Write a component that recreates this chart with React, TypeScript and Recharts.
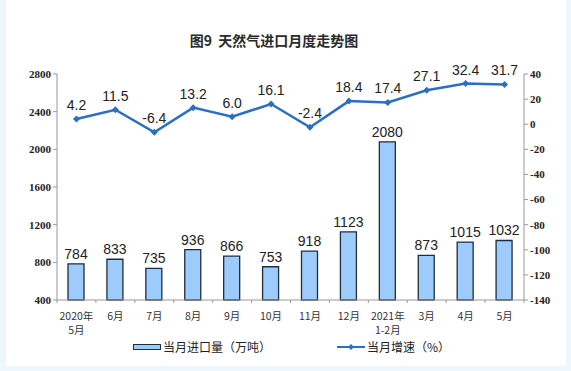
import React from 'react';
import {
  ComposedChart,
  Bar,
  Line,
  XAxis,
  YAxis,
  LabelList,
} from 'recharts';

// 月份标签（两行的用 \n 分隔）
const months = [
  '2020年\n5月', '6月', '7月', '8月', '9月', '10月',
  '11月', '12月', '2021年\n1-2月', '3月', '4月', '5月',
];
// 当月进口量（万吨）
const volume = [784, 833, 735, 936, 866, 753, 918, 1123, 2080, 873, 1015, 1032];
// 当月增速（%）
const growth = [4.2, 11.5, -6.4, 13.2, 6.0, 16.1, -2.4, 18.4, 17.4, 27.1, 32.4, 31.7];

const leftTicks = [400, 800, 1200, 1600, 2000, 2400, 2800];
const rightTicks = [-140, -120, -100, -80, -60, -40, -20, 0, 20, 40];

const data = months.map((m, i) => ({ month: m, volume: volume[i], growth: growth[i] }));

const LINE_COLOR = '#2b6fc0';
const BAR_FILL = '#9dcbfb';
const BAR_STROKE = '#1f2d3d';
const CJK = '"Noto Sans CJK SC", "Noto Sans", sans-serif';
const SERIF = '"Liberation Serif", "DejaVu Serif", serif';

const W = 571;
const H = 371;
const LEFT = 57;
const RIGHT = 47;
const BAND = (W - LEFT - RIGHT) / months.length;

const MonthTick = (props: any) => {
  const { x, y, payload } = props;
  const lines = String(payload.value).split('\n');
  return (
    <g>
      <line x1={x - BAND / 2} x2={x - BAND / 2} y1={y - 8} y2={y - 5} stroke="#999" />
      {payload.index === months.length - 1 && (
        <line x1={x + BAND / 2} x2={x + BAND / 2} y1={y - 8} y2={y - 5} stroke="#999" />
      )}
      <text x={x} y={y + 12} textAnchor="middle" fontFamily={CJK} fontSize={10.5} fill="#333">
        {lines.map((l, i) => (
          <tspan key={i} x={x} dy={i === 0 ? 0 : 14}>{l}</tspan>
        ))}
      </text>
    </g>
  );
};

const Diamond = (props: any) => {
  const { cx, cy } = props;
  if (cx == null || cy == null) return null;
  const r = 3.5;
  return (
    <path
      d={`M${cx},${cy - r}L${cx + r},${cy}L${cx},${cy + r}L${cx - r},${cy}Z`}
      fill={LINE_COLOR}
    />
  );
};

export default function App() {
  return (
    <div style={{ position: 'absolute', left: 0, top: 0, width: W, height: H, background: '#eef6fe' }}>
      <div style={{ position: 'absolute', left: 6, top: 0, width: 560, height: 366, background: '#fff' }} />
      <div
        style={{
          position: 'absolute', left: 0, top: 30, width: 548, textAlign: 'center',
          fontFamily: CJK, fontSize: 14, fontWeight: 'bold', color: '#2a2a2a',
        }}
      >
        图9&nbsp;&nbsp;天然气进口月度走势图
      </div>
      <div style={{ position: 'absolute', left: 0, top: 0 }}>
        <ComposedChart
          width={W}
          height={H}
          data={data}
          margin={{ top: 74, right: 0, bottom: 0, left: 0 }}
          barCategoryGap={0}
        >
          <XAxis
            dataKey="month"
            height={71}
            axisLine={{ stroke: '#999' }}
            tickLine={false}
            interval={0}
            tick={<MonthTick />}
          />
          <YAxis
            yAxisId="left"
            orientation="left"
            width={LEFT}
            domain={[400, 2800]}
            ticks={leftTicks}
            axisLine={{ stroke: '#999' }}
            tickLine={{ stroke: '#999' }}
            tickSize={4}
            tick={{ fontFamily: SERIF, fontSize: 11, fill: '#222', fontWeight: 'bold' }}
          />
          <YAxis
            yAxisId="right"
            orientation="right"
            width={RIGHT}
            domain={[-140, 40]}
            ticks={rightTicks}
            axisLine={{ stroke: '#999' }}
            tickLine={{ stroke: '#999' }}
            tickSize={4}
            tick={{ fontFamily: SERIF, fontSize: 11, fill: '#222', fontWeight: 'bold' }}
          />
          <Bar
            yAxisId="left"
            dataKey="volume"
            barSize={16}
            fill={BAR_FILL}
            stroke={BAR_STROKE}
            strokeWidth={1.3}
            isAnimationActive={false}
          >
            <LabelList dataKey="volume" position="top" offset={5} fill="#222" fontSize={14} fontFamily="Liberation Sans, Arial, sans-serif" />
          </Bar>
          <Line
            yAxisId="right"
            dataKey="growth"
            stroke={LINE_COLOR}
            strokeWidth={2.5}
            dot={<Diamond />}
            activeDot={false}
            isAnimationActive={false}
          >
            <LabelList
              dataKey="growth"
              position="top"
              offset={9}
              fill="#222"
              fontSize={14}
              fontFamily="Liberation Sans, Arial, sans-serif"
              formatter={(v: any) => Number(v).toFixed(1)}
            />
          </Line>
        </ComposedChart>
      </div>
      {/* 图例 */}
      <div
        style={{
          position: 'absolute', left: 133, top: 338, display: 'flex', alignItems: 'center',
          fontFamily: CJK, fontSize: 12, color: '#222',
        }}
      >
        <span style={{ display: 'inline-block', width: 26, height: 4, background: BAR_FILL, border: `1px solid ${BAR_STROKE}`, marginRight: 2 }} />
        当月进口量（万吨）
      </div>
      <div
        style={{
          position: 'absolute', left: 337, top: 338, display: 'flex', alignItems: 'center',
          fontFamily: CJK, fontSize: 12, color: '#222',
        }}
      >
        <svg width={28} height={8} style={{ marginRight: 2 }}>
          <line x1={0} x2={28} y1={4} y2={4} stroke={LINE_COLOR} strokeWidth={2} />
          <path d="M14,1L17,4L14,7L11,4Z" fill={LINE_COLOR} />
        </svg>
        当月增速（%）
      </div>
    </div>
  );
}
